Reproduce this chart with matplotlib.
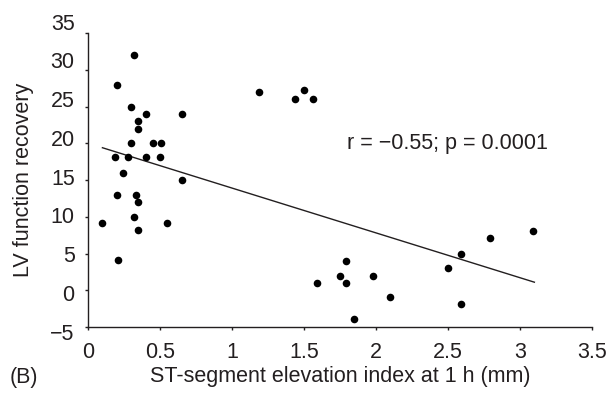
import matplotlib
matplotlib.use("Agg")
import matplotlib.pyplot as plt
import numpy as np

plt.rcParams["font.family"] = ["Liberation Sans", "DejaVu Sans"]

# ST-segment elevation index at 1 h (mm) vs LV function recovery
st_index = [0.10, 0.20, 0.33, 0.35, 0.32, 0.55, 0.35, 0.21,
            0.32, 0.20, 0.30, 0.40, 0.35, 0.35, 0.30, 0.45, 0.51,
            0.19, 0.28, 0.40, 0.50, 0.24, 0.65, 0.655,
            1.19, 1.50, 1.44, 1.56,
            1.59, 1.75, 1.79, 1.79, 1.845, 1.98, 2.10,
            2.50, 2.59, 2.59, 2.79, 3.09]
lv_recovery = [9.2, 13, 13, 12, 10, 9.2, 8.2, 4.1,
               32, 28, 25, 24, 23, 22, 20, 20, 20,
               18.2, 18.2, 18.2, 18.2, 16, 24, 15,
               27, 27.2, 26, 26,
               1, 2, 1, 4, -3.9, 2, -0.9,
               3, 5, -1.9, 7.1, 8.1]

# regression line end points
fit_x = [0.10, 3.10]
fit_y = [19.4, 1.1]

x_ticks = [0, 0.5, 1, 1.5, 2, 2.5, 3, 3.5]
x_tick_labels = ["0", "0.5", "1", "1.5", "2", "2.5", "3", "3.5"]
y_ticks = [-5, 0, 5, 10, 15, 20, 25, 30, 35]
y_tick_labels = ["\u22125", "0", "5", "10", "15", "20", "25", "30", "35"]

ink = "#231f20"
fs = 15.5

fig = plt.figure(figsize=(6.13, 3.94), dpi=100)
ax = fig.add_axes([0.1436, 0.170, 0.8221, 0.746])

ax.scatter(st_index, lv_recovery, s=30, c="black", linewidths=0, zorder=3)
ax.plot(fit_x, fit_y, color=ink, lw=1.0)

ax.set_xlim(0, 3.5)
ax.set_ylim(-5, 35)
ax.set_xticks(x_ticks)
ax.set_xticklabels(x_tick_labels)
ax.set_yticks(y_ticks)
ax.set_yticklabels([])

for side in ["top", "right"]:
    ax.spines[side].set_visible(False)
for side in ["left", "bottom"]:
    ax.spines[side].set_color(ink)
    ax.spines[side].set_linewidth(1.0)

ax.tick_params(axis="both", direction="out", length=2.5, width=1.0,
               colors=ink, labelsize=fs, labelcolor=ink)
ax.tick_params(axis="x", pad=8)

# the y tick labels in the original sit on a slightly taller scale than the ticks
lab = fig.add_axes([0.1436, 0.1581, 0.8221, 0.7868])
lab.set_ylim(-5, 35)
lab.set_yticks(y_ticks)
lab.set_yticklabels(y_tick_labels)
lab.set_xticks([])
lab.patch.set_visible(False)
for side in lab.spines:
    lab.spines[side].set_visible(False)
lab.tick_params(axis="y", length=0, pad=9.6, labelsize=fs, labelcolor=ink)

ax.set_xlabel("ST-segment elevation index at 1 h (mm)", fontsize=fs, color=ink)
ax.set_ylabel("LV function recovery", fontsize=fs, color=ink)
ax.xaxis.label.set_va("center")
ax.yaxis.label.set_va("center")
ax.xaxis.set_label_coords(0.5, -0.170)
ax.yaxis.set_label_coords(-0.129, 0.5)

ax.text(1.80, 20.0, "r = \u22120.55; p = 0.0001", fontsize=fs, color=ink,
        ha="left", va="center")

fig.text(24 / 613, 1 - 377 / 394, "(B)", fontsize=fs, color=ink,
         ha="center", va="center")

fig.savefig("out.png", dpi=100)
